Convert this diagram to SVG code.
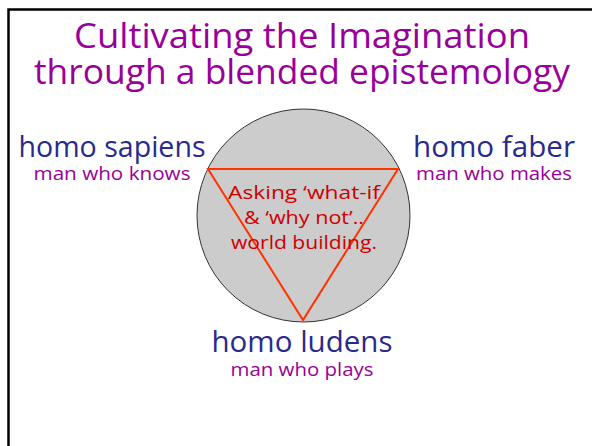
<svg xmlns="http://www.w3.org/2000/svg" width="592" height="446" viewBox="0 0 592 446">
<style>
text{font-family:"Open Sans","Liberation Sans",sans-serif;text-anchor:middle}
.title{fill:#990099;font-size:35px}
.name{fill:#2a2a8c;font-size:29px}
.sub{fill:#990099;font-size:19px}
.inner{fill:#cc0000;font-size:19px}
</style>
<rect x="0" y="0" width="592" height="446" fill="#fff"/>
<path d="M8.5 446 V9.5 H592" fill="none" stroke="#000" stroke-width="2.5"/>
<g id="title">
<text class="title" x="302" y="48" textLength="456" lengthAdjust="spacingAndGlyphs">Cultivating the Imagination</text>
<text class="title" x="302" y="84" textLength="536" lengthAdjust="spacingAndGlyphs">through a blended epistemology</text>
</g>
<g id="circle">
<circle cx="303.5" cy="215.5" r="106.5" fill="#cccccc" stroke="#333" stroke-width="1"/>
</g>
<g id="connectors">
<polygon points="208,169 398,169 303,320" fill="none" stroke="#ff3300" stroke-width="2"/>
</g>
<g id="center">
<text class="inner" x="304" y="199" textLength="152" lengthAdjust="spacingAndGlyphs">Asking ‘what-if</text>
<text class="inner" x="304" y="224" textLength="120" lengthAdjust="spacingAndGlyphs">&amp; ‘why not’..</text>
<text class="inner" x="304" y="249" textLength="146" lengthAdjust="spacingAndGlyphs">world building.</text>
</g>
<g id="sapiens">
<text class="name" x="112" y="157" textLength="187" lengthAdjust="spacingAndGlyphs">homo sapiens</text>
<text class="sub" x="112" y="180" textLength="157" lengthAdjust="spacingAndGlyphs">man who knows</text>
</g>
<g id="faber">
<text class="name" x="494" y="157" textLength="162" lengthAdjust="spacingAndGlyphs">homo faber</text>
<text class="sub" x="494" y="180" textLength="156" lengthAdjust="spacingAndGlyphs">man who makes</text>
</g>
<g id="ludens">
<text class="name" x="302" y="352" textLength="181" lengthAdjust="spacingAndGlyphs">homo ludens</text>
<text class="sub" x="302" y="376" textLength="143" lengthAdjust="spacingAndGlyphs">man who plays</text>
</g>
</svg>
